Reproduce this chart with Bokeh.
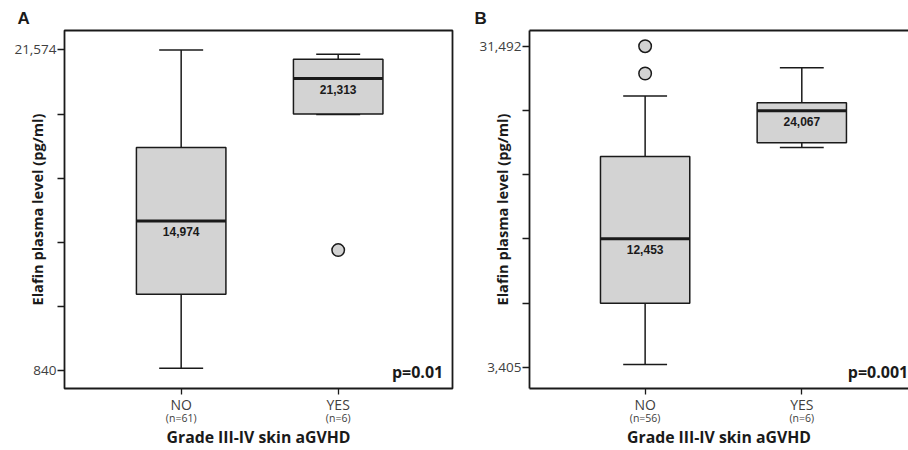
import numpy as np
from bokeh.plotting import figure
from bokeh.layouts import row
from bokeh.models import Range1d, LinearAxis, FixedTicker, Label
from bokeh.embed import file_html
from bokeh.resources import INLINE
from bokeh.core.properties import value

# ---------------- data ----------------
categories = ["NO", "YES"]
x_title = "Grade III-IV skin aGVHD"
y_title = "Elafin plasma level (pg/ml)"

# Panel A
a_counts = ["(n=61)", "(n=6)"]
a_lower = [988, 17400]
a_q1 = [5779, 17434]
a_median = [10518, 19726]
a_q3 = [15264, 20975]
a_upper = [21574, 21297]
a_median_text = ["14,974", "21,313"]
a_outlier_cat = ["YES"]
a_outlier_val = [8631]
a_ticks = [840, 4987, 9134, 13280, 17427, 21574]
a_tick_text = {840: "840", 21574: "21,574"}
a_pvalue = "p=0.01"

# Panel B
b_counts = ["(n=56)", "(n=6)"]
b_lower = [3640, 22632]
b_q1 = [9015, 23041]
b_median = [14643, 25855]
b_q3 = [21848, 26552]
b_upper = [27136, 29601]
b_median_text = ["12,453", "24,067"]
b_outlier_cat = ["NO", "NO"]
b_outlier_val = [31492, 29105]
b_ticks = [3405, 9022, 14640, 20257, 25875, 31492]
b_tick_text = {3405: "3,405", 31492: "31,492"}
b_pvalue = "p=0.001"

# ---------------- styling ----------------
INK = "#1a1a1a"
FILL = "#d3d3d3"
TICK_COL = "#404040"
SANS = "Open Sans"
ARIAL = "Liberation Sans"
BOX_W = 0.57
CAP_W = 0.28

FIG_H = 450
BORDER_TOP = 30
BORDER_BOTTOM = 61
FRAME_H = FIG_H - BORDER_TOP - BORDER_BOTTOM


def make_panel(letter, letter_offset, counts, lower, q1, median, q3, upper, med_text,
               out_cat, out_val, ticks, tick_text, pvalue,
               x_start, x_end, y_start, y_end, width, border_left,
               border_right, full_outline):
    xpos = np.arange(1, len(categories) + 1, dtype=float)
    pos = {c: x for c, x in zip(categories, xpos)}

    p = figure(width=width, height=FIG_H, output_backend="svg",
               toolbar_location=None, title=letter,
               x_range=Range1d(x_start, x_end), y_range=Range1d(y_start, y_end),
               min_border_left=border_left, min_border_right=border_right,
               min_border_top=BORDER_TOP, min_border_bottom=BORDER_BOTTOM,
               x_axis_type=None, y_axis_type=None)
    p.xgrid.visible = False
    p.ygrid.visible = False
    p.background_fill_color = "white"
    p.border_fill_color = "white"
    if full_outline:
        p.outline_line_color = INK
        p.outline_line_width = 1.8
    else:
        p.outline_line_color = None

    p.title.align = "left"
    p.title.offset = letter_offset
    p.title.standoff = 6
    p.title.text_font = ARIAL
    p.title.text_font_style = "bold"
    p.title.text_font_size = "17px"
    p.title.text_color = INK

    frame_w = width - border_left - border_right

    def xdata(px):  # px measured from frame left
        return x_start + px / frame_w * (x_end - x_start)

    def ydata(py):  # py measured from frame top (down)
        return y_end - py / FRAME_H * (y_end - y_start)

    # left axis
    yax = LinearAxis(ticker=FixedTicker(ticks=ticks),
                     major_label_overrides={t: tick_text.get(t, "") for t in ticks})
    yax.axis_line_color = None if full_outline else INK
    yax.axis_line_width = 1.8
    yax.major_tick_in = 0
    yax.major_tick_out = 7
    yax.major_tick_line_color = INK
    yax.major_tick_line_width = 1.3
    yax.minor_tick_line_color = None
    yax.major_label_standoff = 1
    yax.major_label_text_font = SANS
    yax.major_label_text_font_size = "13.5px"
    yax.major_label_text_color = TICK_COL
    yax.axis_label = y_title
    yax.axis_label_standoff = -36
    yax.axis_label_text_font = SANS
    yax.axis_label_text_font_style = "bold"
    yax.axis_label_text_font_size = "14.6px"
    yax.axis_label_text_color = INK
    p.add_layout(yax, "left")

    # bottom axis with categories
    xax = LinearAxis(ticker=FixedTicker(ticks=list(xpos)),
                     major_label_overrides={float(x): c for x, c in zip(xpos, categories)})
    xax.axis_line_color = None if full_outline else INK
    xax.axis_line_width = 1.8
    xax.major_tick_in = 0
    xax.major_tick_out = 6
    xax.major_tick_line_color = INK
    xax.major_tick_line_width = 1.3
    xax.minor_tick_line_color = None
    xax.major_label_standoff = 0
    xax.major_label_text_font = SANS
    xax.major_label_text_font_size = "14px"
    xax.major_label_text_color = TICK_COL
    p.add_layout(xax, "below")

    # second bottom axis with group sizes and the x title
    nax = LinearAxis(ticker=FixedTicker(ticks=list(xpos)),
                     major_label_overrides={float(x): n for x, n in zip(xpos, counts)})
    nax.axis_line_color = None
    nax.major_tick_line_color = None
    nax.minor_tick_line_color = None
    nax.major_tick_in = 0
    nax.major_tick_out = 0
    nax.major_label_standoff = -6
    nax.major_label_text_font = SANS
    nax.major_label_text_font_size = "10.5px"
    nax.major_label_text_color = TICK_COL
    nax.axis_label = x_title
    nax.axis_label_standoff = -2
    nax.axis_label_text_font = SANS
    nax.axis_label_text_font_style = "bold"
    nax.axis_label_text_font_size = "15.8px"
    nax.axis_label_text_color = INK
    p.add_layout(nax, "below")

    if not full_outline:
        top = LinearAxis(ticker=FixedTicker(ticks=[]))
        top.axis_line_color = INK
        top.axis_line_width = 1.8
        top.major_tick_line_color = None
        top.minor_tick_line_color = None
        top.major_label_text_font_size = "0px"
        p.add_layout(top, "above")

    # whiskers
    p.segment(x0=xpos, y0=q3, x1=xpos, y1=upper, line_color=INK, line_width=1.5)
    p.segment(x0=xpos, y0=q1, x1=xpos, y1=lower, line_color=INK, line_width=1.5)
    # caps
    p.segment(x0=xpos - CAP_W / 2, y0=upper, x1=xpos + CAP_W / 2, y1=upper,
              line_color=INK, line_width=1.5)
    p.segment(x0=xpos - CAP_W / 2, y0=lower, x1=xpos + CAP_W / 2, y1=lower,
              line_color=INK, line_width=1.5)
    # boxes
    p.vbar(x=xpos, bottom=q1, top=q3, width=BOX_W, fill_color=FILL,
           line_color=INK, line_width=1.5)
    # medians
    p.segment(x0=xpos - BOX_W / 2, y0=median, x1=xpos + BOX_W / 2, y1=median,
              line_color=INK, line_width=3)
    p.text(x=xpos, y=median, text=med_text, text_align="center",
           text_baseline="middle", y_offset=11, text_font=value(ARIAL),
           text_font_style="bold", text_font_size="12px", text_color=INK)
    # outliers
    p.scatter(x=[pos[c] for c in out_cat], y=out_val, size=12.5,
              fill_color=FILL, line_color=INK, line_width=1.5)

    # p-value
    p.add_layout(Label(x=xdata(378.7), y=ydata(342.5), text=pvalue,
                       text_align="right", text_baseline="middle",
                       text_font=SANS, text_font_style="bold",
                       text_font_size="16px", text_color=INK))
    return p


pA = make_panel("A", -47, a_counts, a_lower, a_q1, a_median, a_q3, a_upper,
                a_median_text, a_outlier_cat, a_outlier_val, a_ticks, a_tick_text,
                a_pvalue, 0.257, 2.728, -319, 22830, 470, 64, 18, True)
pB = make_panel("B", -55, b_counts, b_lower, b_q1, b_median, b_q3, b_upper,
                b_median_text, b_outlier_cat, b_outlier_val, b_ticks, b_tick_text,
                b_pvalue, 0.262, 2.681, 1549, 32868, 438, 59, 0, False)

layout = row(pA, pB)
open("out.html", "w").write(file_html(layout, INLINE))
